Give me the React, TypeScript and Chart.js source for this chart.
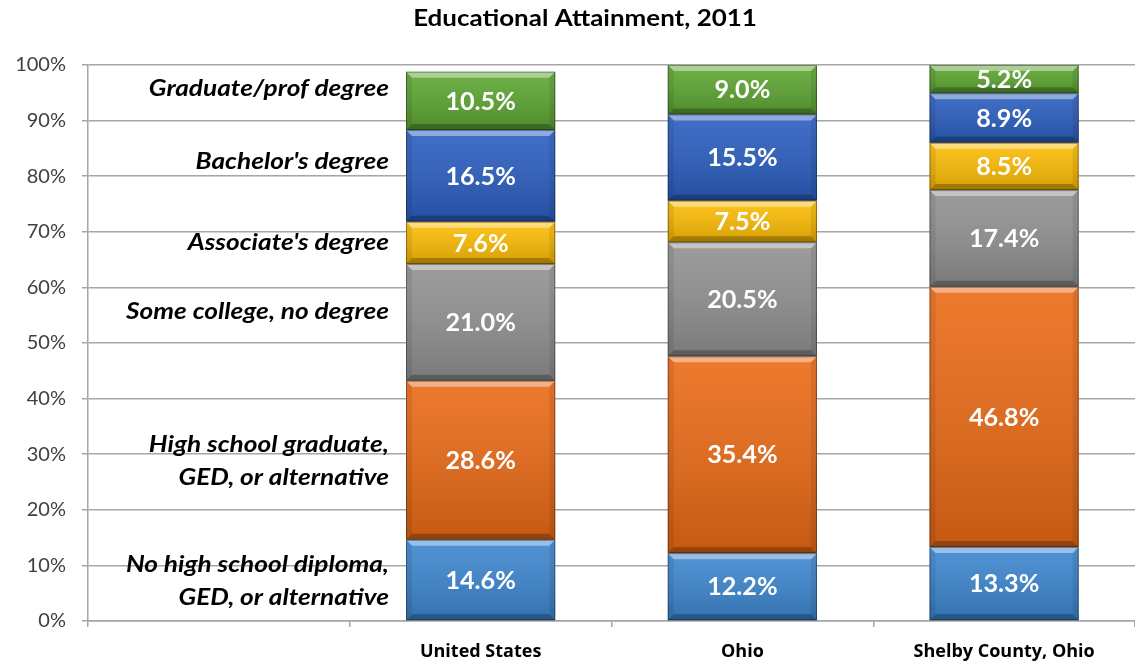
import React, { useEffect, useRef } from 'react';
import { Chart, registerables } from 'chart.js';

Chart.register(...registerables);

const categories = ['', 'United States', 'Ohio', 'Shelby County, Ohio'];
const noDiploma = [null, 14.6, 12.2, 13.3];
const highSchool = [null, 28.6, 35.4, 46.8];
const someCollege = [null, 21.0, 20.5, 17.4];
const associate = [null, 7.6, 7.5, 8.5];
const bachelor = [null, 16.5, 15.5, 8.9];
const graduate = [null, 10.5, 9.0, 5.2];

const seriesNames = [
  'No high school diploma, GED, or alternative',
  'High school graduate, GED, or alternative',
  'Some college, no degree',
  "Associate's degree",
  "Bachelor's degree",
  'Graduate/prof degree',
];
const seriesColors = ['#3d86cf', '#ea6a16', '#919191', '#fcbc05', '#2b5ec0', '#5da632'];

const sideLabels = [
  ['No high school diploma,', 'GED, or alternative'],
  ['High school graduate,', 'GED, or alternative'],
  ['Some college, no degree'],
  ["Associate's degree"],
  ["Bachelor's degree"],
  ['Graduate/prof degree'],
];
const sideLabelValues = [7.1, 28.8, 55.6, 68.0, 82.6, 95.7];

const titleText = 'Educational Attainment, 2011';
const FONT = "Lato, 'Open Sans', sans-serif";

function scaledText(ctx: CanvasRenderingContext2D, text: string, x: number, y: number, sx: number) {
  ctx.save();
  ctx.translate(x, y);
  ctx.scale(sx, 1);
  ctx.fillText(text, 0, 0);
  ctx.restore();
}

const decorPlugin = {
  id: 'decor',
  afterDatasetsDraw(chart: any) {
    const ctx = chart.ctx as CanvasRenderingContext2D;
    const area = chart.chartArea;
    ctx.save();
    ctx.beginPath();
    ctx.rect(area.left, area.top, area.right - area.left, area.bottom - area.top);
    ctx.clip();
    chart.data.datasets.forEach((ds: any, di: number) => {
      const meta = chart.getDatasetMeta(di);
      meta.data.forEach((el: any, i: number) => {
        if (ds.data[i] == null) return;
        const p = el.getProps(['x', 'y', 'base', 'width'], true);
        const left = p.x - p.width / 2;
        const right = p.x + p.width / 2;
        const top = Math.max(Math.min(p.y, p.base), area.top);
        const bottom = Math.max(p.y, p.base);
        const h = bottom - top;
        const b = Math.min(6, h / 3);
        const g = ctx.createLinearGradient(0, top, 0, bottom);
        g.addColorStop(0, 'rgba(255,255,255,0.10)');
        g.addColorStop(1, 'rgba(0,0,0,0.16)');
        ctx.fillStyle = g;
        ctx.fillRect(left, top, right - left, h);
        ctx.fillStyle = 'rgba(255,255,255,0.42)';
        ctx.beginPath();
        ctx.moveTo(left, top);
        ctx.lineTo(right, top);
        ctx.lineTo(right - b, top + b);
        ctx.lineTo(left + b, top + b);
        ctx.closePath();
        ctx.fill();
        ctx.fillStyle = 'rgba(0,0,0,0.25)';
        ctx.beginPath();
        ctx.moveTo(left, bottom);
        ctx.lineTo(right, bottom);
        ctx.lineTo(right - b, bottom - b);
        ctx.lineTo(left + b, bottom - b);
        ctx.closePath();
        ctx.fill();
        ctx.fillStyle = 'rgba(0,0,0,0.08)';
        ctx.beginPath();
        ctx.moveTo(left, top);
        ctx.lineTo(left + b, top + b);
        ctx.lineTo(left + b, bottom - b);
        ctx.lineTo(left, bottom);
        ctx.closePath();
        ctx.fill();
        ctx.beginPath();
        ctx.moveTo(right, top);
        ctx.lineTo(right - b, top + b);
        ctx.lineTo(right - b, bottom - b);
        ctx.lineTo(right, bottom);
        ctx.closePath();
        ctx.fill();
        ctx.strokeStyle = 'rgba(0,0,0,0.35)';
        ctx.lineWidth = 1;
        ctx.strokeRect(left + 0.5, top + 0.5, right - left - 1, h - 1);
      });
    });
    ctx.restore();

    ctx.save();
    ctx.fillStyle = '#ffffff';
    ctx.font = `bold 24px ${FONT}`;
    ctx.textAlign = 'center';
    ctx.textBaseline = 'middle';
    chart.data.datasets.forEach((ds: any, di: number) => {
      const meta = chart.getDatasetMeta(di);
      meta.data.forEach((el: any, i: number) => {
        const v = ds.data[i];
        if (v == null) return;
        const p = el.getProps(['x', 'y', 'base'], true);
        const top = Math.max(Math.min(p.y, p.base), area.top);
        const bottom = Math.max(p.y, p.base);
        scaledText(ctx, v.toFixed(1) + '%', p.x, (top + bottom) / 2 + 1, 1.05);
      });
    });
    ctx.restore();

    ctx.save();
    ctx.fillStyle = '#000000';
    ctx.font = `italic bold 23px ${FONT}`;
    ctx.textAlign = 'right';
    ctx.textBaseline = 'middle';
    const yScale = chart.scales.y;
    sideLabels.forEach((lines, k) => {
      const cy = yScale.getPixelForValue(sideLabelValues[k]);
      const lh = 33;
      const start = cy - ((lines.length - 1) * lh) / 2;
      lines.forEach((ln, j) => {
        scaledText(ctx, ln, 389, start + j * lh, 1.14);
      });
    });
    ctx.restore();

    ctx.save();
    ctx.fillStyle = '#000000';
    ctx.font = `bold 22px ${FONT}`;
    ctx.textAlign = 'center';
    ctx.textBaseline = 'middle';
    scaledText(ctx, titleText, 585, 19, 1.18);
    ctx.restore();
  },
};

export default function App() {
  const ref = useRef<HTMLCanvasElement>(null);
  useEffect(() => {
    document.body.style.margin = '0';
    const datasetsData = [noDiploma, highSchool, someCollege, associate, bachelor, graduate];
    const chart = new Chart(ref.current!, {
      type: 'bar',
      data: {
        labels: categories,
        datasets: datasetsData.map((d, i) => ({
          label: seriesNames[i],
          data: d,
          backgroundColor: seriesColors[i],
          borderWidth: 0,
          barPercentage: 1,
          categoryPercentage: 0.57,
        })),
      },
      options: {
        responsive: false,
        animation: false,
        layout: { padding: { top: 65, right: 0, left: 0, bottom: 0 } },
        plugins: {
          legend: { display: false },
          tooltip: { enabled: false },
          title: { display: false },
        },
        scales: {
          x: {
            stacked: true,
            afterFit: (s: any) => { s.height = 46; },
            grid: {
              offset: true,
              drawOnChartArea: false,
              drawTicks: true,
              tickLength: 6,
              color: '#a6a6a6',
              lineWidth: 1.5,
            },
            border: { color: '#a6a6a6', width: 1.5 },
            ticks: {
              color: '#000000',
              font: { family: "'Open Sans', Lato, sans-serif", size: 18, weight: 'bold' },
              padding: 14,
              maxRotation: 0,
            },
          },
          y: {
            stacked: true,
            min: 0,
            max: 100,
            afterFit: (s: any) => { s.width = 88; },
            grid: {
              color: '#a6a6a6',
              lineWidth: 1.5,
              tickLength: 6,
            },
            border: { color: '#a6a6a6', width: 1.5 },
            ticks: {
              stepSize: 10,
              color: '#404040',
              font: { family: FONT, size: 20 },
              padding: 16,
              callback: (v: any) => v + '%',
            },
          },
        },
      },
      plugins: [decorPlugin],
    });
    return () => chart.destroy();
  }, []);
  return (
    <div style={{ width: 1135, height: 667 }}>
      <canvas ref={ref} width={1135} height={667} />
    </div>
  );
}
